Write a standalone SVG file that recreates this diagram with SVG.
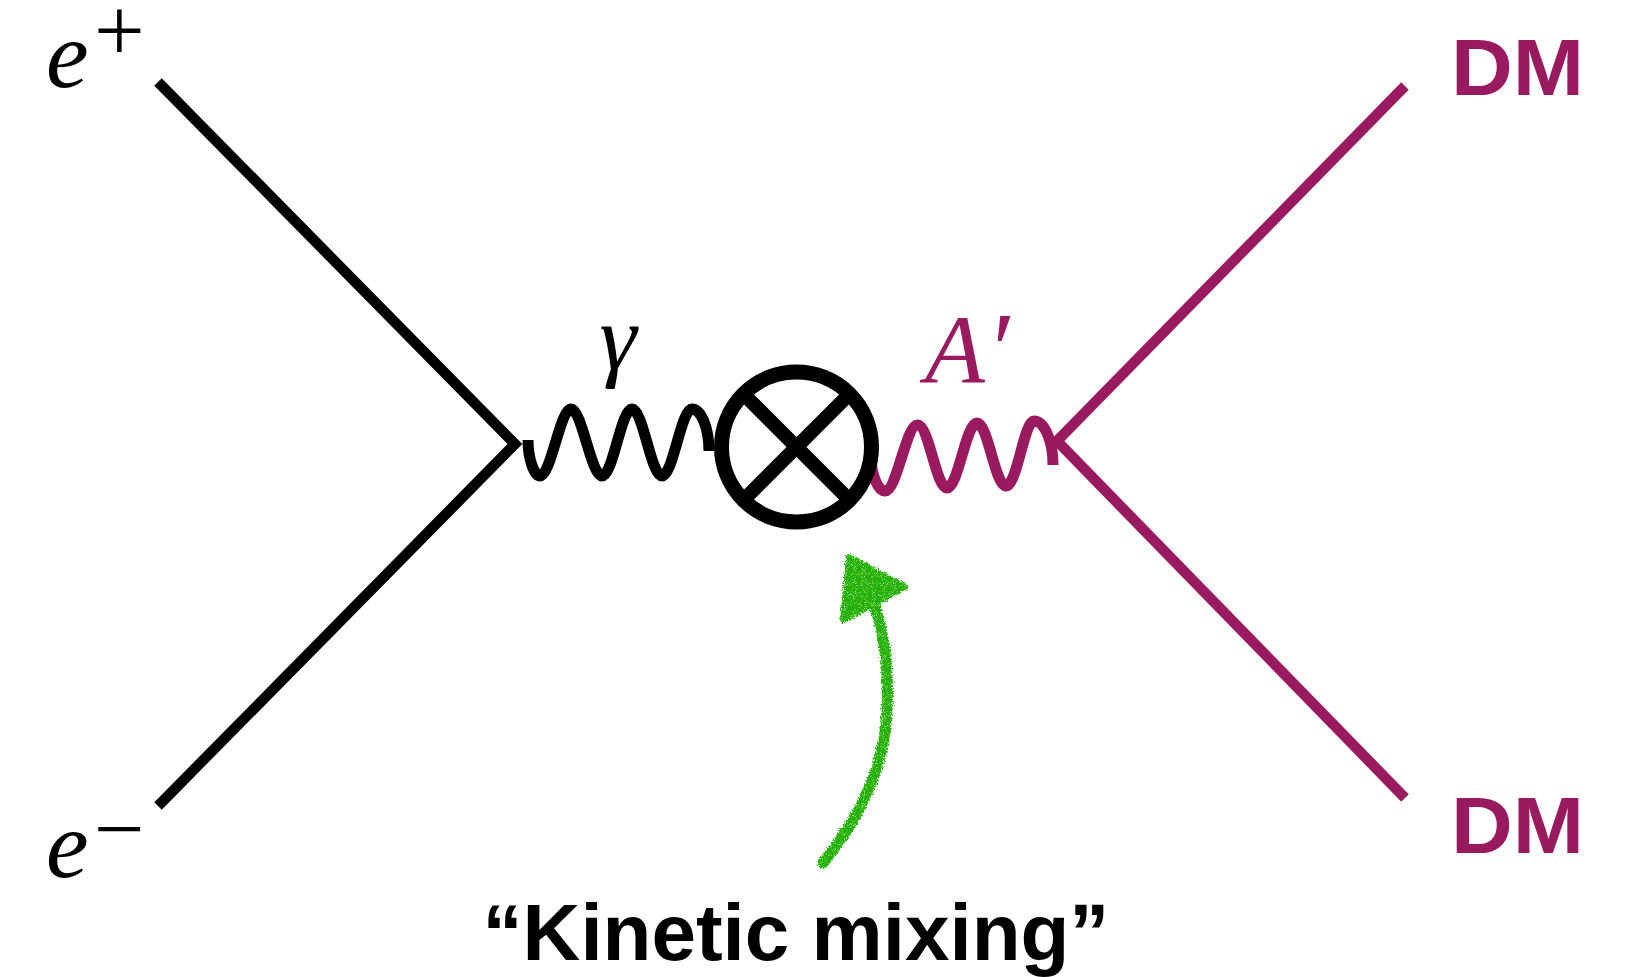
<svg xmlns="http://www.w3.org/2000/svg" width="1635" height="977" viewBox="0 0 1635 977">
<style>
.fermion{fill:none;stroke:#000;stroke-width:10.5;stroke-linejoin:miter;stroke-miterlimit:10}
.wave{fill:none;stroke:#000;stroke-width:11;stroke-linecap:butt}
.fermion.dark,.wave.dark{stroke:#991a5e}
.math{font-family:"Liberation Serif","Times New Roman",serif;font-style:italic}
.up{font-family:"Liberation Serif","Times New Roman",serif}
.sans{font-family:"Liberation Sans",Arial,Helvetica,sans-serif;font-weight:bold}
.purple{fill:#991a5e}
.green{fill:#22b000;stroke:#22b000}
</style>
<defs>
<filter id="crayon" x="-30%" y="-10%" width="160%" height="120%">
<feTurbulence type="fractalNoise" baseFrequency="0.7" numOctaves="2" seed="3" result="n"/>
<feDisplacementMap in="SourceGraphic" in2="n" scale="6" xChannelSelector="R" yChannelSelector="G" result="d"/>
<feTurbulence type="fractalNoise" baseFrequency="1.1" numOctaves="1" seed="9" result="n2"/>
<feColorMatrix in="n2" type="matrix" values="0 0 0 0 0 0 0 0 0 0 0 0 0 0 0 -3 0 0 0 2.6" result="m"/>
<feComposite in="d" in2="m" operator="in"/>
</filter>
</defs>
<rect width="1635" height="977" fill="#fff"/>
<g id="connectors">
<polyline id="electron-lines" class="fermion" points="158,82 515,444 158,806"/>
<polyline id="dm-lines" class="fermion dark" points="1405,86 1057,441 1405,798"/>
<path id="photon" class="wave" d="M528,440 C528,458 534,476 540,476 C551,476 560,409 571,409 C582,409 591,476 602,476 C613,476 621,409 632,409 C643,409 651,476 662,476 C673,476 681,409 692,409 C701,409 709,428 709,451"/>
<path id="dark-photon" class="wave dark" d="M871,455 C871,475 878,491 885,491 C897,491 906,425 917.5,425 C929,425 936,488 947,488 C958,488 966,423 977,423 C988,423 995,486 1006,486 C1017,486 1024,421 1034,421 C1044,421 1053,440 1053,465"/>
<g id="mixing-arrow" filter="url(#crayon)">
<path d="M823,863 C848,832 884,780 887,710 C889,665 884,635 875,607" fill="none" stroke="#22b000" stroke-width="11" stroke-linecap="round"/>
<polygon class="green" points="849,557 905,587 843,620" stroke-width="6" stroke-linejoin="round"/>
</g>
</g>
<g id="vertex-mixing">
<circle cx="796.5" cy="447" r="75" fill="none" stroke="#000" stroke-width="15"/>
<line x1="748" y1="398.5" x2="845" y2="495.5" stroke="#000" stroke-width="14"/>
<line x1="845" y1="398.5" x2="748" y2="495.5" stroke="#000" stroke-width="14"/>
</g>
<g id="label-eplus">
<text class="math" x="46" y="87" font-size="96">e</text>
<text class="up" x="94" y="61" font-size="90">+</text>
</g>
<g id="label-eminus">
<text class="math" x="46" y="877" font-size="96">e</text>
<text class="up" x="94" y="859" font-size="90">−</text>
</g>
<g id="label-gamma">
<text class="math" x="618" y="369" font-size="94" text-anchor="middle">γ</text>
</g>
<g id="label-aprime">
<text class="math purple" x="925" y="382" font-size="98">A<tspan x="986" y="386" font-size="106">′</tspan></text>
</g>
<g id="label-dm-top">
<text class="sans purple" x="1451" y="95" font-size="80" textLength="133" lengthAdjust="spacingAndGlyphs">DM</text>
</g>
<g id="label-dm-bottom">
<text class="sans purple" x="1451" y="853" font-size="80" textLength="133" lengthAdjust="spacingAndGlyphs">DM</text>
</g>
<g id="label-kinetic">
<text class="sans" x="796" y="960" font-size="80" text-anchor="middle">“Kinetic mixing”</text>
</g>
</svg>
